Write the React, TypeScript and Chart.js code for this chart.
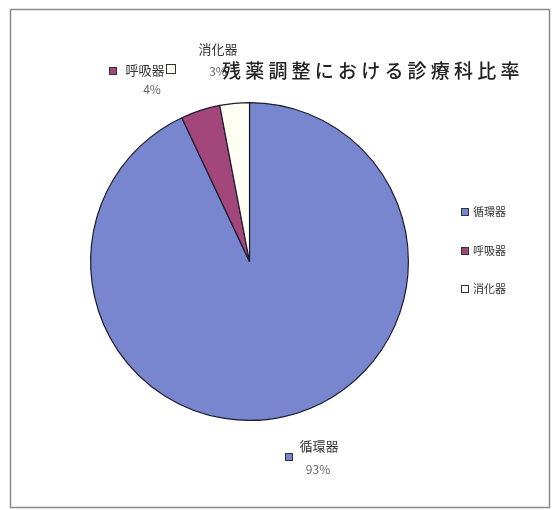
import React, { useEffect, useRef } from "react";
import { Chart, registerables } from "chart.js";

Chart.register(...registerables);

const titleText = "残薬調整における診療科比率";
const categories = ["循環器", "呼吸器", "消化器"];
const shares = [93, 4, 3];
const sliceColors = ["#7885cf", "#a2467c", "#fffff4"];
const percentLabels = ["93%", "4%", "3%"];

const JP = '"Noto Sans CJK JP", "Noto Sans", sans-serif';

const overlay = {
  id: "overlay",
  beforeDraw(chart: any) {
    const ctx = chart.ctx;
    ctx.save();
    ctx.fillStyle = "#ffffff";
    ctx.fillRect(0, 0, chart.width, chart.height);
    ctx.strokeStyle = "#8a8a8a";
    ctx.lineWidth = 1.5;
    ctx.strokeRect(10.5, 9.5, 539, 498);
    ctx.restore();
  },
  afterDraw(chart: any) {
    const ctx = chart.ctx;
    const labels: string[] = chart.data.labels;
    const colors: string[] = chart.data.datasets[0].backgroundColor;
    ctx.save();
    ctx.textBaseline = "middle";

    const key = (x: number, y: number, s: number, c: string) => {
      ctx.fillStyle = c;
      ctx.fillRect(x, y, s, s);
      ctx.strokeStyle = "#333";
      ctx.lineWidth = 1;
      ctx.strokeRect(x + 0.5, y + 0.5, s - 1, s - 1);
    };

    // 循環器 data label
    key(285, 453, 8, colors[0]);
    ctx.textAlign = "center";
    ctx.font = `13px ${JP}`;
    ctx.fillStyle = "#333";
    ctx.fillText(labels[0], 319, 446);
    ctx.font = `12px ${JP}`;
    ctx.fillStyle = "#666";
    ctx.fillText(percentLabels[0], 318, 469);

    // 呼吸器 data label
    key(109, 67, 8, colors[1]);
    ctx.font = `13px ${JP}`;
    ctx.fillStyle = "#333";
    ctx.fillText(labels[1], 145, 70);
    ctx.font = `12px ${JP}`;
    ctx.fillStyle = "#666";
    ctx.fillText(percentLabels[1], 152, 89);

    // 消化器 data label
    key(166, 64, 10, colors[2]);
    ctx.font = `13px ${JP}`;
    ctx.fillStyle = "#333";
    ctx.fillText(labels[2], 218, 49);
    ctx.font = `12px ${JP}`;
    ctx.fillStyle = "#666";
    ctx.fillText(percentLabels[2], 218, 71);

    // title (drawn over the 3% label, as in the original)
    ctx.font = `500 19px ${JP}`;
    ctx.fillStyle = "#222";
    ctx.textAlign = "left";
    Array.from(titleText).forEach((ch, i) => {
      ctx.fillText(ch, 222 + i * 23.2, 71);
    });

    // legend on the right
    ctx.font = `11px ${JP}`;
    const ys = [212, 251, 289];
    labels.forEach((lab, i) => {
      key(461, ys[i] - 4, 8, colors[i]);
      ctx.fillStyle = "#333";
      ctx.fillText(lab, 473, ys[i]);
    });
    ctx.restore();
  },
};

export default function App() {
  const ref = useRef<HTMLCanvasElement | null>(null);
  useEffect(() => {
    if (!ref.current) return;
    const chart = new Chart(ref.current, {
      type: "pie",
      data: {
        labels: categories,
        datasets: [
          {
            data: shares,
            backgroundColor: sliceColors,
            borderColor: "#1c1c2c",
            borderWidth: 1.2,
          },
        ],
      },
      options: {
        responsive: false,
        animation: false,
        layout: { padding: { left: 90, right: 143, top: 102, bottom: 89 } },
        plugins: {
          legend: { display: false },
          title: { display: false },
          tooltip: { enabled: false },
        },
      },
      plugins: [overlay],
    });
    return () => chart.destroy();
  }, []);
  return (
    <div style={{ position: "absolute", left: 0, top: 0, width: 552, height: 510, background: "#fff" }}>
      <canvas ref={ref} width={552} height={510} style={{ display: "block" }} />
    </div>
  );
}
